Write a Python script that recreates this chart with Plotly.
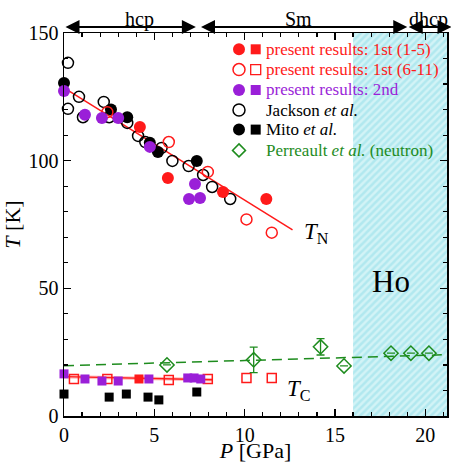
import plotly.graph_objects as go

# ---------------- data ----------------
tn_red_filled_p = [4.2, 5.75, 8.8, 11.2]
tn_red_filled_t = [113.2, 93.2, 87.7, 85.0]
tn_red_open_p = [2.4, 5.8, 7.96, 10.1, 11.5]
tn_red_open_t = [119.0, 107.3, 95.6, 77.0, 71.8]
tn_purple_p = [0.0, 1.16, 2.1, 3.0, 4.75, 6.92, 7.25, 7.53]
tn_purple_t = [127.3, 118.0, 116.7, 116.7, 105.4, 85.0, 90.9, 85.4]
tn_mito_p = [0.0, 2.6, 3.5, 4.75, 5.2, 7.35]
tn_mito_t = [130.4, 120.0, 117.0, 107.0, 103.4, 99.9]
tn_jackson_p = [0.22, 0.22, 0.83, 1.05, 2.2, 2.5, 3.5, 4.1, 4.5, 5.4, 6.0, 6.9, 7.7, 8.2, 9.2]
tn_jackson_t = [138.3, 120.3, 125.0, 117.0, 123.0, 117.0, 114.8, 109.7, 107.3, 105.0, 99.9, 97.9, 94.4, 89.7, 85.0]

tc_purple_p = [0.0, 1.16, 2.1, 3.0, 4.7, 6.85, 7.2, 7.57]
tc_purple_t = [16.5, 14.5, 13.7, 13.7, 14.5, 14.9, 14.9, 14.5]
tc_red_filled_p = [4.15]
tc_red_filled_t = [14.5]
tc_red_open_p = [0.55, 2.4, 5.8, 7.96, 10.1, 11.5]
tc_red_open_t = [14.5, 14.5, 14.1, 14.5, 14.9, 14.9]
tc_mito_p = [0.0, 2.5, 3.45, 4.65, 5.25, 7.35]
tc_mito_t = [8.6, 7.4, 8.6, 7.4, 6.3, 9.4]

perreault_p = [5.7, 10.5, 14.2, 15.5, 18.1, 19.2, 20.2]
perreault_t = [20.0, 22.0, 27.1, 19.6, 24.6, 24.6, 24.6]
perreault_err = [0, 5.0, 3.2, 0, 0, 0, 0]

tn_fit_p = [0.0, 12.65]
tn_fit_t = [128.5, 72.9]
tc_fit_p = [0.0, 8.2]
tc_fit_t = [15.4, 14.2]
perr_fit_p = [0.0, 21.2]
perr_fit_t = [19.7, 24.0]

ho_p = [16.0, 21.2]
x_range = [0, 21.2]
y_range = [0, 150]

phase_names = ["hcp", "Sm", "dhcp"]
phase_start = [0.0, 7.5, 19.0]
phase_end = [7.3, 19.0, 21.45]
phase_label_p = [4.2, 13.0, 20.2]

legend_texts = [
    "present results: 1st (1-5)",
    "present results: 1st (6-11)",
    "present results: 2nd",
    "Jackson <i>et al.</i>",
    "Mito <i>et al.</i>",
    "Perreault <i>et al.</i> (neutron)",
]

# ---------------- style ----------------
RED = "#ff1a1a"
PURPLE = "#9a1fd8"
GREEN = "#1e8c1e"
BLACK = "#000000"
FONT = "Liberation Serif"

fig = go.Figure()

# Ho hatched region
fig.add_trace(go.Scatter(
    x=[ho_p[0], ho_p[1], ho_p[1], ho_p[0], ho_p[0]],
    y=[y_range[0], y_range[0], y_range[1], y_range[1], y_range[0]],
    mode="lines", fill="toself", line=dict(width=0),
    fillcolor="rgba(0,0,0,0)",
    fillpattern=dict(shape="/", bgcolor="#d2f3f6", fgcolor="#8fdde8", size=5, solidity=0.5),
    hoverinfo="skip", showlegend=False))

# fit lines
fig.add_trace(go.Scatter(x=perr_fit_p, y=perr_fit_t, mode="lines",
                         line=dict(color=GREEN, width=1.5, dash="10px,6px"), showlegend=False))
fig.add_trace(go.Scatter(x=tn_fit_p, y=tn_fit_t, mode="lines",
                         line=dict(color=RED, width=1.5), showlegend=False))
fig.add_trace(go.Scatter(x=tc_fit_p, y=tc_fit_t, mode="lines",
                         line=dict(color="rgba(255,120,120,0.5)", width=3.5), showlegend=False))
fig.add_trace(go.Scatter(x=tc_fit_p, y=tc_fit_t, mode="lines",
                         line=dict(color=RED, width=1.3), showlegend=False))


def pts(x, y, color, symbol, size, open_=False):
    if open_:
        m = dict(color=color, symbol=symbol, size=size, line=dict(color=color, width=1.5))
    else:
        m = dict(color=color, symbol=symbol, size=size, line=dict(width=0))
    fig.add_trace(go.Scatter(x=x, y=y, mode="markers", marker=m, showlegend=False, cliponaxis=False))

# T_N
pts(tn_jackson_p, tn_jackson_t, BLACK, "circle-open", 11, open_=True)
pts(tn_mito_p, tn_mito_t, BLACK, "circle", 12)
pts(tn_red_open_p, tn_red_open_t, RED, "circle-open", 11, open_=True)
pts(tn_red_filled_p, tn_red_filled_t, RED, "circle", 12)
pts(tn_purple_p, tn_purple_t, PURPLE, "circle", 12)
# T_C
pts(tc_mito_p, tc_mito_t, BLACK, "square", 9)
pts(tc_red_open_p, tc_red_open_t, RED, "square-open", 9, open_=True)
pts(tc_red_filled_p, tc_red_filled_t, RED, "square", 9)
pts(tc_purple_p, tc_purple_t, PURPLE, "square", 9)
# Perreault
fig.add_trace(go.Scatter(
    x=perreault_p, y=perreault_t, mode="markers",
    marker=dict(symbol="diamond-open", size=11, color=GREEN, line=dict(color=GREEN, width=1.5)),
    error_y=dict(type="data", array=perreault_err, color=GREEN, thickness=1.3, width=4),
    showlegend=False))

# ---------------- layout ----------------
W, H = 451, 463
L, R, T, B = 64, 4, 33, 47
pw, ph = W - L - R, H - T - B


def px_x(px):
    return (px - L) / pw


def px_y(py):
    return (H - B - py) / ph

shapes = []
annotations = []

# phase arrows
arrow_y = px_y(27)
label_y = px_y(19)
for name, s, e, lp in zip(phase_names, phase_start, phase_end, phase_label_p):
    annotations.append(dict(x=e, y=arrow_y, xref="x", yref="paper", ax=s, ay=0,
                            axref="x", ayref="pixel", text="", showarrow=True,
                            arrowhead=2, startarrowhead=2, arrowside="end+start",
                            arrowwidth=2, arrowsize=1.4, startarrowsize=1.4,
                            arrowcolor=BLACK, standoff=0, startstandoff=0))
    annotations.append(dict(x=lp, y=label_y, xref="x", yref="paper", text=name,
                            showarrow=False, font=dict(family=FONT, size=20, color=BLACK),
                            xanchor="center", yanchor="middle"))

# custom legend
row_y = [49.3, 69.6, 90.0, 110.0, 129.6, 150.4]
circle_x = 239
square_x = 255.7
text_x = 264
legend_colors = [RED, RED, PURPLE, BLACK, BLACK, GREEN]
legend_circle = ["filled", "open", "filled", "open", "filled", "diamond"]
legend_square = ["filled", "open", "filled", None, "filled", None]
cr, sq = 6.0, 5.0
for i in range(6):
    yy = row_y[i]
    col = legend_colors[i]
    kind = legend_circle[i]
    if kind == "diamond":
        d = 6.5
        shapes.append(dict(type="path", xref="paper", yref="paper",
                           path="M {a},{b} L {c},{d2} L {a},{e} L {f},{d2} Z".format(
                               a=px_x(circle_x), b=px_y(yy - d), c=px_x(circle_x + d),
                               d2=px_y(yy), e=px_y(yy + d), f=px_x(circle_x - d)),
                           line=dict(color=col, width=1.5), fillcolor="rgba(0,0,0,0)"))
    else:
        shapes.append(dict(type="circle", xref="paper", yref="paper",
                           x0=px_x(circle_x - cr), x1=px_x(circle_x + cr),
                           y0=px_y(yy + cr), y1=px_y(yy - cr),
                           line=dict(color=col, width=1.5 if kind == "open" else 0),
                           fillcolor=col if kind == "filled" else "white"))
    sk = legend_square[i]
    if sk is not None:
        shapes.append(dict(type="rect", xref="paper", yref="paper",
                           x0=px_x(square_x - sq), x1=px_x(square_x + sq),
                           y0=px_y(yy + sq), y1=px_y(yy - sq),
                           line=dict(color=col, width=1.3 if sk == "open" else 0),
                           fillcolor=col if sk == "filled" else "white"))
    annotations.append(dict(x=px_x(text_x), y=px_y(yy), xref="paper", yref="paper",
                            text=legend_texts[i], showarrow=False, xanchor="left",
                            yanchor="middle", font=dict(family=FONT, size=17, color=col)))

# T_N, T_C, Ho labels
annotations.append(dict(x=14.0, y=71.5, xref="x", yref="y", text="<i>T</i><sub>N</sub>",
                        showarrow=False, font=dict(family=FONT, size=23, color=BLACK)))
annotations.append(dict(x=13.0, y=10.0, xref="x", yref="y", text="<i>T</i><sub>C</sub>",
                        showarrow=False, font=dict(family=FONT, size=23, color=BLACK)))
annotations.append(dict(x=18.1, y=52.5, xref="x", yref="y", text="Ho",
                        showarrow=False, font=dict(family=FONT, size=31, color=BLACK)))

axis_common = dict(showline=True, linecolor=BLACK, linewidth=1.5, mirror="ticks",
                   ticks="inside", ticklen=7, tickwidth=1.3, tickcolor=BLACK,
                   showgrid=False, zeroline=False,
                   tickfont=dict(family=FONT, size=20, color=BLACK))

fig.update_layout(
    width=W, height=H,
    margin=dict(l=L, r=R, t=T, b=B, autoexpand=False),
    paper_bgcolor="white", plot_bgcolor="white",
    showlegend=False,
    hovermode=False,
    xaxis=dict(range=x_range, dtick=5, tick0=0,
               minor=dict(dtick=1, ticks="inside", ticklen=4, tickcolor=BLACK, tickwidth=1.2),
               title=dict(text="<i>P</i> [GPa]", font=dict(family=FONT, size=22, color=BLACK),
                          standoff=0),
               **axis_common),
    yaxis=dict(range=y_range, dtick=50, tick0=0,
               minor=dict(dtick=10, ticks="inside", ticklen=4, tickcolor=BLACK, tickwidth=1.2),
               title=dict(text="<i>T</i> [K]", font=dict(family=FONT, size=22, color=BLACK),
                          standoff=4),
               **axis_common),
    shapes=shapes,
    annotations=annotations,
)

fig.write_html("out.html", default_width=f"{W}px", default_height=f"{H}px",
               config={"displayModeBar": False, "staticPlot": True},
               post_script="document.body.style.margin='0px';"
                           "document.body.style.overflow='hidden';")
